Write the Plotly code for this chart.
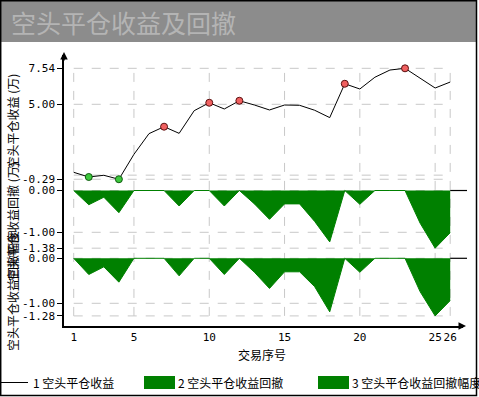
import plotly.graph_objects as go

# ---------------- data ----------------
seq = list(range(1, 27))
profit = [0.20, -0.13, -0.01, -0.29, 1.47, 2.93, 3.42, 2.95, 4.55, 5.11, 4.67, 5.25, 4.95,
          4.60, 4.95, 4.93, 4.58, 4.06, 6.45, 6.08, 6.91, 7.42, 7.54, 6.83, 6.15, 6.57]
drawdown = [0, -0.34, -0.16, -0.53, 0, 0, 0, -0.37, 0, 0, -0.37, 0, -0.32,
            -0.69, -0.32, -0.32, -0.74, -1.23, 0, -0.33, 0, 0, 0, -0.78, -1.38, -1.01]
ratio = [0, -0.36, -0.19, -0.53, 0, 0, 0, -0.39, 0, 0, -0.36, 0, -0.31,
         -0.67, -0.30, -0.30, -0.63, -1.19, 0, -0.31, 0, 0, 0, -0.74, -1.28, -0.94]
peak_idx = [7, 10, 12, 19, 23]
trough_idx = [2, 4]

x_ticks = [1, 5, 10, 15, 20, 25, 26]
y1_ticks = [-0.29, 5.00, 7.54]
y2_ticks = [-1.38, -1.00, 0.00]
y3_ticks = [-1.28, -1.00, 0.00]

title = "空头平仓收益及回撤"
names = ["空头平仓收益", "空头平仓收益回撤", "空头平仓收益回撤幅度"]
y_titles = ["空头平仓收益 (万)", "空头平仓收益回撤 (万)", "空头平仓收益回撤幅度"]
x_title = "交易序号"

# ---------------- layout helpers ----------------
W, H = 479, 397
L, R, T, B = 64, 16, 55, 71
PW, PH = W - L - R, H - T - B


def px_x(p):
    return (p - L) / PW


def px_y(p):
    return (H - B - p) / PH


XR = [0.355, 26.85]
D1 = [px_y(188), 1.0]
D2 = [px_y(256), px_y(188)]
D3 = [0.0, px_y(256)]
R1 = [-0.907, 8.48]
R2 = [-1.567, 0.06]
R3 = [-1.504, 0.051]


def to_paper(v, D, Rg):
    return D[0] + (v - Rg[0]) / (Rg[1] - Rg[0]) * (D[1] - D[0])


GREEN = "#008000"
GRID = "#c8c8c8"
CJK = "Noto Sans CJK SC"
MONO = "DejaVu Sans Mono"

fig = go.Figure()

fig.add_trace(go.Scatter(x=seq, y=profit, mode="lines", line=dict(color="black", width=1),
                         xaxis="x", yaxis="y", showlegend=False, hoverinfo="skip"))
fig.add_trace(go.Scatter(x=peak_idx, y=[profit[i - 1] for i in peak_idx], mode="markers",
                         marker=dict(color="#f06060", size=7, line=dict(color="#5a1010", width=1)),
                         xaxis="x", yaxis="y", showlegend=False, hoverinfo="skip"))
fig.add_trace(go.Scatter(x=trough_idx, y=[profit[i - 1] for i in trough_idx], mode="markers",
                         marker=dict(color="#3cc83c", size=7, line=dict(color="#105a10", width=1)),
                         xaxis="x", yaxis="y", showlegend=False, hoverinfo="skip"))
fig.add_trace(go.Scatter(x=seq, y=drawdown, mode="lines", fill="tozeroy", fillcolor=GREEN,
                         line=dict(color=GREEN, width=1), xaxis="x", yaxis="y2",
                         showlegend=False, hoverinfo="skip"))
fig.add_trace(go.Scatter(x=seq, y=ratio, mode="lines", fill="tozeroy", fillcolor=GREEN,
                         line=dict(color=GREEN, width=1), xaxis="x", yaxis="y3",
                         showlegend=False, hoverinfo="skip"))

shapes = []
# horizontal grid lines (span the data range)
for ax, vals in (("y", y1_ticks + [0.0]), ("y2", y2_ticks), ("y3", y3_ticks)):
    for v in vals:
        shapes.append(dict(type="line", xref="x", yref=ax, x0=seq[0], x1=seq[-1], y0=v, y1=v,
                           line=dict(color=GRID, width=1, dash="dash"), layer="below"))
# vertical grid lines
ytop = to_paper(max(profit), D1, R1)
ybot = to_paper(min(ratio), D3, R3)
for xv in x_ticks:
    shapes.append(dict(type="line", xref="x", yref="paper", x0=xv, x1=xv, y0=ybot, y1=ytop,
                       line=dict(color=GRID, width=1, dash="dash"), layer="below"))
# black zero-line extensions at right
for D, Rg in ((D2, R2), (D3, R3)):
    yz = to_paper(0, D, Rg)
    shapes.append(dict(type="line", xref="paper", yref="paper",
                       x0=(seq[-1] - XR[0]) / (XR[1] - XR[0]), x1=px_x(467), y0=yz, y1=yz,
                       line=dict(color="black", width=1.2)))
# title bar
shapes.append(dict(type="rect", xref="paper", yref="paper", x0=px_x(0), x1=px_x(477),
                   y0=px_y(42), y1=px_y(0), fillcolor="#8c8c8c", line=dict(width=0), layer="below"))
# frame
shapes.append(dict(type="rect", xref="paper", yref="paper", x0=px_x(0.7), x1=px_x(476.5),
                   y0=px_y(395.5), y1=px_y(0.7), line=dict(color="black", width=1.5),
                   fillcolor="rgba(0,0,0,0)"))
# legend symbols
shapes.append(dict(type="line", xref="paper", yref="paper", x0=px_x(1), x1=px_x(28),
                   y0=px_y(382.5), y1=px_y(382.5), line=dict(color="black", width=1)))
for x0p in (144, 318):
    shapes.append(dict(type="rect", xref="paper", yref="paper", x0=px_x(x0p), x1=px_x(x0p + 31),
                       y0=px_y(389), y1=px_y(376), fillcolor=GREEN, line=dict(width=0)))

annotations = []
annotations.append(dict(text=title, xref="paper", yref="paper", x=px_x(9), y=px_y(22),
                        xanchor="left", yanchor="middle", showarrow=False,
                        font=dict(family=CJK, size=25, color="#b4b4b4")))
# y-axis titles (rotated)
for txt, D in zip(y_titles, (D1, D2, D3)):
    annotations.append(dict(text=txt, xref="paper", yref="paper", x=px_x(12),
                            y=(D[0] + D[1]) / 2, textangle=-90, showarrow=False,
                            xanchor="center", yanchor="middle",
                            font=dict(family=CJK, size=12, color="black")))
annotations.append(dict(text=x_title, xref="paper", yref="paper", x=px_x(262), y=px_y(354),
                        showarrow=False, xanchor="center", yanchor="middle",
                        font=dict(family=CJK, size=12, color="black")))
# legend texts
for xp, i in ((31, 0), (176, 1), (350, 2)):
    annotations.append(dict(text=f"{i + 1} {names[i]}", xref="paper", yref="paper", x=px_x(xp),
                            y=px_y(382.5), showarrow=False, xanchor="left", yanchor="middle",
                            font=dict(family=CJK, size=12, color="black")))
# axis arrows
annotations.append(dict(x=0, y=px_y(52), xref="paper", yref="paper", ax=0, ay=10,
                        axref="pixel", ayref="pixel", showarrow=True, arrowhead=2,
                        arrowsize=1, arrowwidth=1.5, arrowcolor="black", text=""))
annotations.append(dict(x=px_x(466), y=0, xref="paper", yref="paper", ax=-8, ay=0,
                        axref="pixel", ayref="pixel", showarrow=True, arrowhead=2,
                        arrowsize=1, arrowwidth=1.5, arrowcolor="black", text=""))

yax_common = dict(showgrid=False, zeroline=False, showline=True, linecolor="black", linewidth=1.5,
                  ticks="outside", ticklen=5, tickcolor="black", tickwidth=1,
                  tickfont=dict(family=MONO, size=11, color="black"), anchor="x")

fig.update_layout(
    width=W, height=H, margin=dict(l=L, r=R, t=T, b=B, pad=0),
    paper_bgcolor="white", plot_bgcolor="white", showlegend=False,
    xaxis=dict(range=XR, domain=[0, 1], anchor="y3", tickvals=x_ticks,
               ticktext=[str(v) for v in x_ticks], showgrid=False, zeroline=False,
               showline=True, linecolor="black", linewidth=1.5, ticks="", tickangle=0,
               tickfont=dict(family=MONO, size=11, color="black")),
    yaxis=dict(domain=D1, range=R1, tickvals=y1_ticks,
               ticktext=[f"{v:.2f}" for v in y1_ticks], **yax_common),
    yaxis2=dict(domain=D2, range=R2, tickvals=y2_ticks,
                ticktext=[f"{v:.2f}" for v in y2_ticks], **yax_common),
    yaxis3=dict(domain=D3, range=R3, tickvals=y3_ticks,
                ticktext=[f"{v:.2f}" for v in y3_ticks], **yax_common),
    shapes=shapes, annotations=annotations,
)

fig.write_html("out.html", config={"displayModeBar": False},
               post_script="document.body.style.margin='0';document.body.style.overflow='hidden';")
